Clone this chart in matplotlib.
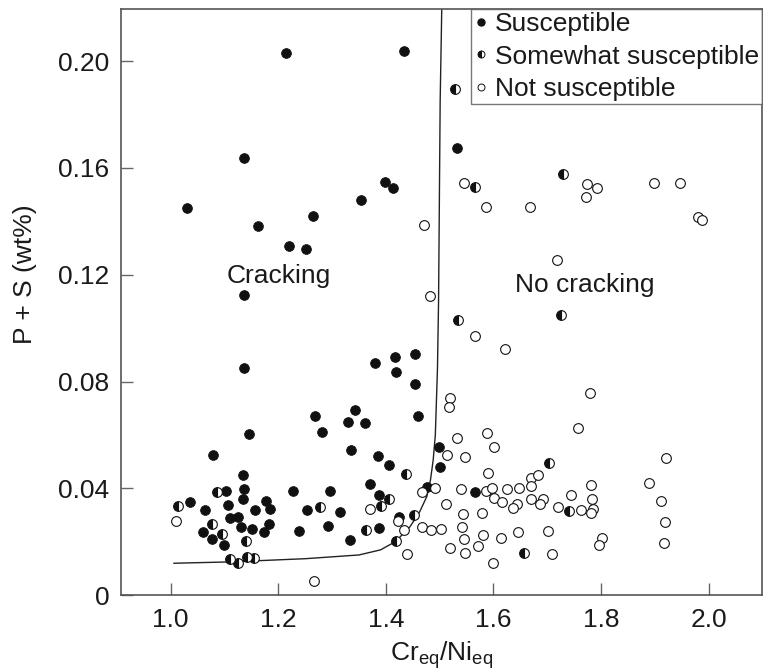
import matplotlib
matplotlib.use('Agg')
import matplotlib.pyplot as plt
from matplotlib.lines import Line2D

plt.rcParams['font.family'] = ['Liberation Sans', 'DejaVu Sans']

# susceptible (filled)
sus_x = [1.214, 1.136, 1.031, 1.162, 1.265, 1.219, 1.251, 1.354, 1.399, 1.414, 1.136,
         1.434, 1.533,
         1.136, 1.379, 1.078, 1.146, 1.268, 1.281, 1.329, 1.342, 1.361, 1.336, 1.386, 1.405,
         1.370, 1.387, 1.388, 1.333, 1.315, 1.297, 1.253, 1.292, 1.239, 1.227, 1.185, 1.178,
         1.156, 1.182, 1.174, 1.151, 1.131, 1.134, 1.136, 1.135, 1.125, 1.110, 1.107, 1.103,
         1.063, 1.036, 1.060, 1.076, 1.099,
         1.417, 1.455, 1.419, 1.455, 1.459, 1.498, 1.501, 1.476, 1.566, 1.424]
sus_y = [0.2031, 0.1636, 0.1451, 0.1382, 0.1421, 0.1307, 0.1297, 0.1479, 0.1547, 0.1523, 0.1124,
         0.2039, 0.1675,
         0.0851, 0.0870, 0.0526, 0.0603, 0.0670, 0.0610, 0.0649, 0.0694, 0.0644, 0.0544, 0.0523, 0.0489,
         0.0417, 0.0375, 0.0251, 0.0207, 0.0313, 0.0392, 0.0318, 0.0258, 0.0242, 0.0389, 0.0322, 0.0353,
         0.0319, 0.0266, 0.0237, 0.0249, 0.0256, 0.0449, 0.0397, 0.0360, 0.0292, 0.0289, 0.0339, 0.0389,
         0.0318, 0.0349, 0.0238, 0.0212, 0.0189,
         0.0893, 0.0902, 0.0837, 0.0792, 0.0671, 0.0554, 0.0479, 0.0407, 0.0386, 0.0294]

# somewhat susceptible (half filled)
some_x = [1.528, 1.566, 1.730, 1.535, 1.725,
          1.278, 1.391, 1.405, 1.364, 1.086, 1.013, 1.077, 1.096, 1.140, 1.110, 1.125, 1.142, 1.155,
          1.704, 1.437, 1.740, 1.453, 1.418, 1.657]
some_y = [0.1894, 0.1527, 0.1578, 0.1031, 0.1050,
          0.0332, 0.0334, 0.0359, 0.0244, 0.0387, 0.0335, 0.0267, 0.0231, 0.0202, 0.0135, 0.0121, 0.0144, 0.0138,
          0.0494, 0.0455, 0.0314, 0.0299, 0.0202, 0.0157]

# not susceptible (open)
not_x = [1.545, 1.586, 1.668, 1.774, 1.792, 1.773, 1.898, 1.947, 1.981, 1.988, 1.719, 1.471, 1.482,
         1.566, 1.621, 1.779, 1.520, 1.517, 1.757, 1.533, 1.588, 1.601, 1.514, 1.548, 1.920, 1.590,
         1.670, 1.683, 1.669, 1.782, 1.890, 1.492, 1.468, 1.540, 1.587, 1.597, 1.625, 1.647, 1.744,
         1.784, 1.911, 1.511, 1.602, 1.616, 1.669, 1.692, 1.686, 1.644, 1.636, 1.721, 1.763, 1.786,
         1.781, 1.543, 1.579, 1.423, 1.433, 1.439, 1.467, 1.484, 1.502, 1.542, 1.520, 1.546, 1.547,
         1.571, 1.580, 1.600, 1.615, 1.645, 1.701, 1.709, 1.802, 1.796, 1.919, 1.917,
         1.370, 1.009, 1.266]
not_y = [0.1544, 0.1452, 0.1452, 0.1538, 0.1523, 0.1492, 0.1544, 0.1544, 0.1418, 0.1405, 0.1255, 0.1385, 0.1120,
         0.0971, 0.0922, 0.0756, 0.0739, 0.0704, 0.0625, 0.0590, 0.0608, 0.0555, 0.0524, 0.0518, 0.0515, 0.0458,
         0.0439, 0.0452, 0.0410, 0.0414, 0.0419, 0.0400, 0.0387, 0.0397, 0.0390, 0.0400, 0.0399, 0.0403, 0.0375,
         0.0359, 0.0352, 0.0342, 0.0364, 0.0350, 0.0359, 0.0359, 0.0342, 0.0343, 0.0327, 0.0331, 0.0319, 0.0323,
         0.0309, 0.0303, 0.0308, 0.0277, 0.0244, 0.0153, 0.0257, 0.0246, 0.0248, 0.0255, 0.0178, 0.0210, 0.0157,
         0.0183, 0.0227, 0.0120, 0.0213, 0.0237, 0.0242, 0.0156, 0.0214, 0.0188, 0.0273, 0.0195,
         0.0323, 0.0277, 0.0054]

# boundary curve between cracking / no cracking
curve_x = [1.006, 1.11, 1.25, 1.35, 1.39, 1.418, 1.445, 1.463, 1.476, 1.483, 1.488, 1.492, 1.496, 1.498, 1.501, 1.504]
curve_y = [0.012, 0.0125, 0.0137, 0.0151, 0.0170, 0.0201, 0.0257, 0.0313, 0.0369, 0.0432, 0.0506, 0.060, 0.085, 0.11, 0.185, 0.22]

fig = plt.figure(figsize=(7.63, 6.70), dpi=100)
ax = fig.add_axes([0.1582, 0.1115, 0.8409, 0.8751])

ax.plot(curve_x, curve_y, color='#222222', lw=1.0, zorder=1)

ms = 7.0
ax.plot(sus_x, sus_y, 'o', ls='none', ms=ms, mfc='#111111', mec='#111111', mew=0.6, zorder=3)
ax.plot(some_x, some_y, 'o', ls='none', ms=ms, fillstyle='left', mfc='#111111',
        markerfacecoloralt='white', mec='#111111', mew=0.8, zorder=3)
ax.plot(not_x, not_y, 'o', ls='none', ms=ms, mfc='white', mec='#111111', mew=0.8, zorder=3)

ax.text(1.2007, 0.1195, 'Cracking', fontsize=19, ha='center', va='center', color='#1a1a1a')
ax.text(1.769, 0.1162, 'No cracking', fontsize=19, ha='center', va='center', color='#1a1a1a')

ax.set_xlim(0.907, 2.1)
ax.set_ylim(0, 0.2195)
ax.set_xticks([1.0, 1.2, 1.4, 1.6, 1.8, 2.0])
ax.set_yticks([0, 0.04, 0.08, 0.12, 0.16, 0.20])
ax.set_yticklabels(['0', '0.04', '0.08', '0.12', '0.16', '0.20'])
ax.tick_params(direction='in', length=8.5, width=1.0, color='#666666', labelsize=19,
               labelcolor='#1a1a1a', pad=8)
ax.tick_params(axis='x', pad=9)
for s in ax.spines.values():
    s.set_color('#555555')
    s.set_linewidth(1.2)

ax.set_xlabel('Cr$_{\\mathregular{eq}}$/Ni$_{\\mathregular{eq}}$', fontsize=19, color='#1a1a1a', labelpad=5)
ax.set_ylabel('P + S (wt%)', fontsize=19, color='#1a1a1a')
ax.yaxis.set_label_coords(-0.130, 0.548)

handles = [
    Line2D([], [], marker='o', ls='none', ms=5, mfc='#111111', mec='#111111'),
    Line2D([], [], marker='o', ls='none', ms=5, fillstyle='left', mfc='#111111',
           markerfacecoloralt='white', mec='#111111', mew=0.7),
    Line2D([], [], marker='o', ls='none', ms=5, mfc='white', mec='#111111', mew=0.7),
]
leg = ax.legend(handles, ['Susceptible', 'Somewhat susceptible', 'Not susceptible'],
                loc='upper right', borderaxespad=0, fontsize=19, frameon=True, fancybox=False,
                handlelength=0.5, handletextpad=0.3, labelspacing=0.32, borderpad=0.12)
leg.get_frame().set_edgecolor('#555555')
leg.get_frame().set_linewidth(1.0)
for t in leg.get_texts():
    t.set_color('#1a1a1a')

fig.savefig('out.png', dpi=100)
